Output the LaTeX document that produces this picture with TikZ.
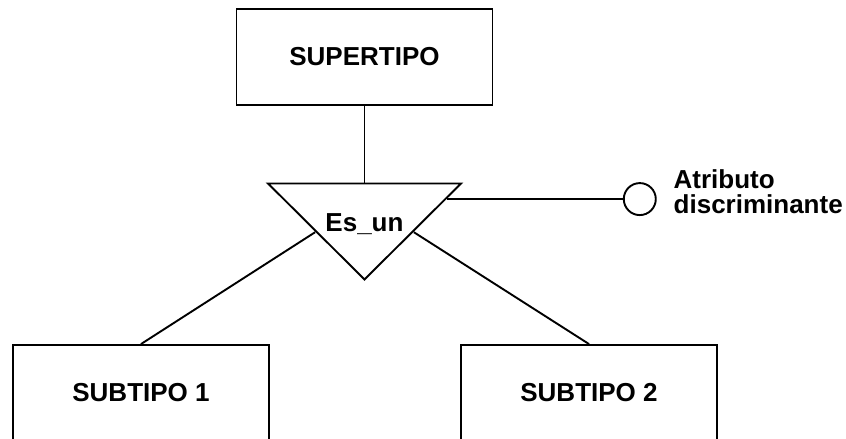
\documentclass[tikz,border=0pt]{standalone}
\usepackage{fontspec}
\setmainfont{Liberation Sans}
\usetikzlibrary{positioning,shapes.geometric,calc}

\begin{document}
\begin{tikzpicture}[line width=1.9pt,node distance=80pt and 16pt,
  entidad/.style={draw,minimum width=256pt,minimum height=96pt,font=\bfseries\fontsize{26}{30}\selectfont},
  esun/.style={draw,isosceles triangle,isosceles triangle stretches,shape border rotate=-90,
    minimum width=193pt,minimum height=96pt,inner sep=0pt},
  atrib/.style={draw,circle,minimum size=32pt,inner sep=0pt},
  etiqueta/.style={align=left,inner sep=0pt,font=\bfseries\fontsize{26}{25}\selectfont}]
\useasboundingbox (0,0) rectangle (846pt,-439pt);
\node[entidad] (super) at (364.5pt,-57pt) {SUPERTIPO};
\node[esun,below=176pt of super.south,anchor=apex] (esun) {};
\node[font=\bfseries\fontsize{26}{30}\selectfont,above=50pt of esun.apex,anchor=base] (esuntxt) {Es\_un};
\node[entidad] (sub1) at (141pt,-393pt) {SUBTIPO 1};
\node[entidad] (sub2) at (589pt,-393pt) {SUBTIPO 2};
\coordinate (ancla) at ($(esun.left corner)!1/6!(esun.apex)$);
\node[atrib,right=176pt of ancla] (disc) {};
\node[etiqueta,right=16pt of disc,yshift=7pt] (etiq) {Atributo\\discriminante};
% lineas
\draw (super.south) -- (esun.lower side);
\draw (esun.right side) -- (sub1.north);
\draw (esun.left side) -- (sub2.north);
\draw (ancla) -- (disc);
\end{tikzpicture}
\end{document}
